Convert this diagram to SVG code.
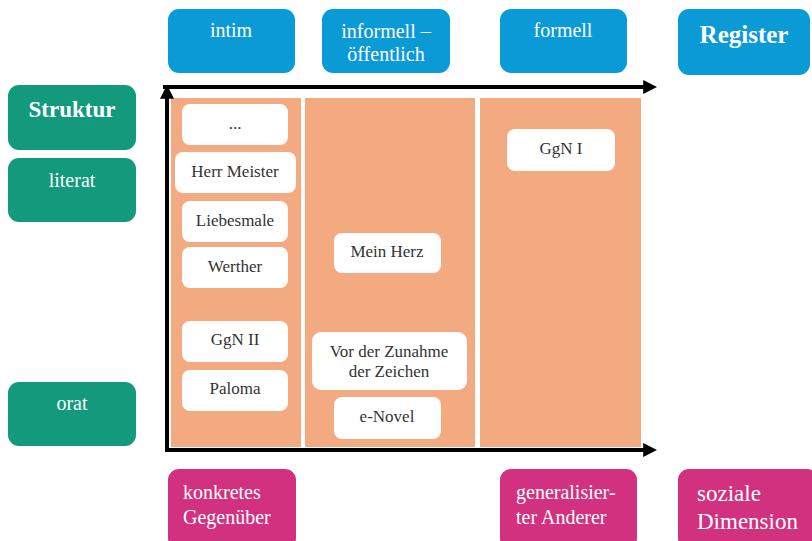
<svg xmlns="http://www.w3.org/2000/svg" width="812" height="541" viewBox="0 0 812 541">
<defs>
<style>
.blue{fill:#0a9ad6}
.green{fill:#13997c}
.pink{fill:#d2317f}
.col{fill:#f4aa80}
.wbox{fill:#ffffff}
.t{font-family:"Liberation Serif",serif;font-size:20px;fill:#ffffff;text-anchor:middle}
.tb{font-family:"Liberation Serif",serif;font-size:23px;font-weight:bold;fill:#ffffff;text-anchor:middle}
.tl{font-family:"Liberation Serif",serif;font-size:20px;fill:#ffffff}
.w{font-family:"Liberation Serif",serif;font-size:17px;fill:#333333;text-anchor:middle}
.ax{stroke:#000000;stroke-width:4;fill:none}
</style>
<marker id="ah" viewBox="0 0 10 10" refX="2" refY="5" markerWidth="3.5" markerHeight="3.5" markerUnits="strokeWidth" orient="auto">
<path d="M0,0 L10,5 L0,10 z" fill="#000000"/>
</marker>
</defs>
<rect width="812" height="541" fill="#ffffff"/>
<g id="columns">
<rect class="col" x="171" y="98" width="130" height="349"/>
<rect class="col" x="305" y="98" width="170" height="349"/>
<rect class="col" x="480" y="98" width="161" height="349"/>
</g>
<g id="connectors">
<line class="ax" x1="163" y1="87" x2="646" y2="87" marker-end="url(#ah)"/>
<line class="ax" x1="167" y1="451" x2="167" y2="96" marker-end="url(#ah)"/>
<line class="ax" x1="165" y1="450" x2="646" y2="450" marker-end="url(#ah)"/>
</g>
<g id="intim"><rect class="blue" x="168" y="9" width="127" height="64" rx="11"/><text class="t" x="231" y="37">intim</text></g>
<g id="informell"><rect class="blue" x="322" y="9" width="128" height="64" rx="11"/><text class="t" x="386" y="38">informell –</text><text class="t" x="386" y="61">öffentlich</text></g>
<g id="formell"><rect class="blue" x="500" y="9" width="127" height="64" rx="11"/><text class="t" x="563" y="37">formell</text></g>
<g id="register"><rect class="blue" x="678" y="9" width="132" height="66" rx="11"/><text class="tb" x="744" y="43" style="font-size:25px">Register</text></g>
<g id="struktur"><rect class="green" x="8" y="85" width="128" height="65" rx="11"/><text class="tb" x="72" y="117">Struktur</text></g>
<g id="literat"><rect class="green" x="8" y="158" width="128" height="64" rx="11"/><text class="t" x="72" y="187">literat</text></g>
<g id="orat"><rect class="green" x="8" y="382" width="128" height="64" rx="11"/><text class="t" x="72" y="410">orat</text></g>
<g id="dots"><rect class="wbox" x="182" y="104" width="106" height="41" rx="8"/><text class="w" x="235" y="129">...</text></g>
<g id="herrmeister"><rect class="wbox" x="175" y="152" width="121" height="41" rx="8"/><text class="w" x="235" y="177">Herr Meister</text></g>
<g id="liebesmale"><rect class="wbox" x="182" y="201" width="106" height="41" rx="8"/><text class="w" x="235" y="226">Liebesmale</text></g>
<g id="werther"><rect class="wbox" x="182" y="247" width="106" height="41" rx="8"/><text class="w" x="235" y="272">Werther</text></g>
<g id="ggn2"><rect class="wbox" x="182" y="321" width="106" height="41" rx="8"/><text class="w" x="235" y="345">GgN II</text></g>
<g id="paloma"><rect class="wbox" x="182" y="370" width="106" height="41" rx="8"/><text class="w" x="235" y="394">Paloma</text></g>
<g id="meinherz"><rect class="wbox" x="334" y="233" width="107" height="40" rx="8"/><text class="w" x="387" y="257">Mein Herz</text></g>
<g id="zunahme"><rect class="wbox" x="312" y="332" width="155" height="58" rx="9"/><text class="w" x="389" y="357">Vor der Zunahme</text><text class="w" x="389" y="377">der Zeichen</text></g>
<g id="enovel"><rect class="wbox" x="334" y="397" width="107" height="42" rx="8"/><text class="w" x="387" y="422">e-Novel</text></g>
<g id="ggn1"><rect class="wbox" x="507" y="129" width="108" height="42" rx="8"/><text class="w" x="561" y="154">GgN I</text></g>
<g id="konkretes"><rect class="pink" x="168" y="469" width="128" height="80" rx="11"/><text class="tl" x="183" y="499">konkretes</text><text class="tl" x="183" y="524">Gegenüber</text></g>
<g id="generalisiert"><rect class="pink" x="500" y="469" width="137" height="80" rx="11"/><text class="tl" x="516" y="499">generalisier-</text><text class="tl" x="516" y="524">ter Anderer</text></g>
<g id="sozial"><rect class="pink" x="678" y="469" width="140" height="80" rx="11"/><text class="tl" x="697" y="501" style="font-size:23px">soziale</text><text class="tl" x="697" y="529" style="font-size:23px">Dimension</text></g>
</svg>
